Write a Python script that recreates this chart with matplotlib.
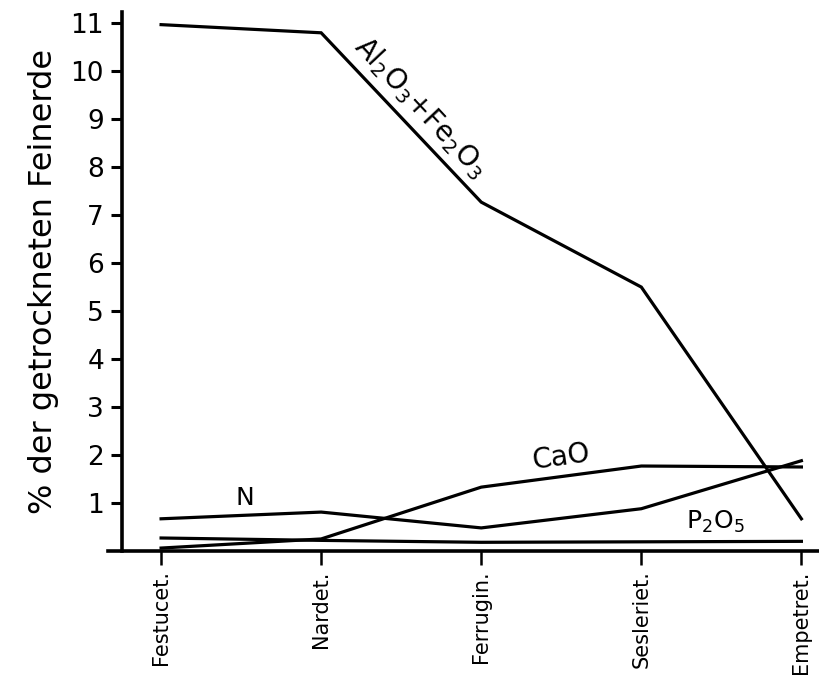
"""
plot.py

Nährstoffgehalte der Feinerde in fünf Pflanzengesellschaften.
"""

# === Imports ===
import matplotlib
matplotlib.use("Agg")
import matplotlib.pyplot as plt

# === Daten ===
gesellschaften = ["Festucet.", "Nardet.", "Ferrugin.", "Sesleriet.", "Empetret."]
al_fe = [10.97, 10.8, 7.27, 5.5, 0.67]
cao = [0.06, 0.25, 1.33, 1.77, 1.75]
stickstoff = [0.67, 0.81, 0.48, 0.88, 1.88]
p2o5 = [0.27, 0.22, 0.18, 0.19, 0.20]
y_ticks = [1, 2, 3, 4, 5, 6, 7, 8, 9, 10, 11]

plt.rcParams['font.family'] = ['DejaVu Sans']


def plot_feinerde():
    fig = plt.figure(figsize=(8.19, 6.76), dpi=100)
    ax = fig.add_axes([0.132, 0.185, 0.868, 0.797])

    x = list(range(len(gesellschaften)))
    for werte in (al_fe, cao, stickstoff, p2o5):
        ax.plot(x, werte, color="black", linewidth=2.3, solid_joinstyle="miter")

    ax.set_xlim(-0.331, 4.11)
    ax.set_ylim(0, 11.23)

    # Achsen wie in der Handzeichnung
    ax.spines["top"].set_visible(False)
    ax.spines["right"].set_visible(False)
    ax.spines["left"].set_position(("data", -0.244))
    for s in ("left", "bottom"):
        ax.spines[s].set_linewidth(2.6)

    ax.set_yticks(y_ticks)
    ax.set_yticklabels([str(v) for v in y_ticks], fontsize=19)
    ax.set_xticks(x)
    ax.set_xticklabels(gesellschaften, rotation=90, fontsize=15)
    ax.tick_params(axis="y", length=8, width=2.2, pad=5)
    ax.tick_params(axis="x", length=10, width=1.8, pad=4)

    ax.set_ylabel("% der getrockneten Feinerde", fontsize=23, labelpad=8)

    # Beschriftungen der Kurven
    ax.text(1.62, 9.25, r"Al$_2$O$_3$+Fe$_2$O$_3$", fontsize=20,
            rotation=-47, ha="center", va="center")
    ax.text(2.5, 1.95, "CaO", fontsize=20, rotation=8, ha="center", va="center")
    ax.text(0.525, 1.1, "N", fontsize=18, ha="center", va="center")
    ax.text(3.46, 0.6, r"P$_2$O$_5$", fontsize=18, ha="center", va="center")

    fig.savefig("out.png", dpi=100)
    plt.close(fig)


if __name__ == "__main__":
    plot_feinerde()
